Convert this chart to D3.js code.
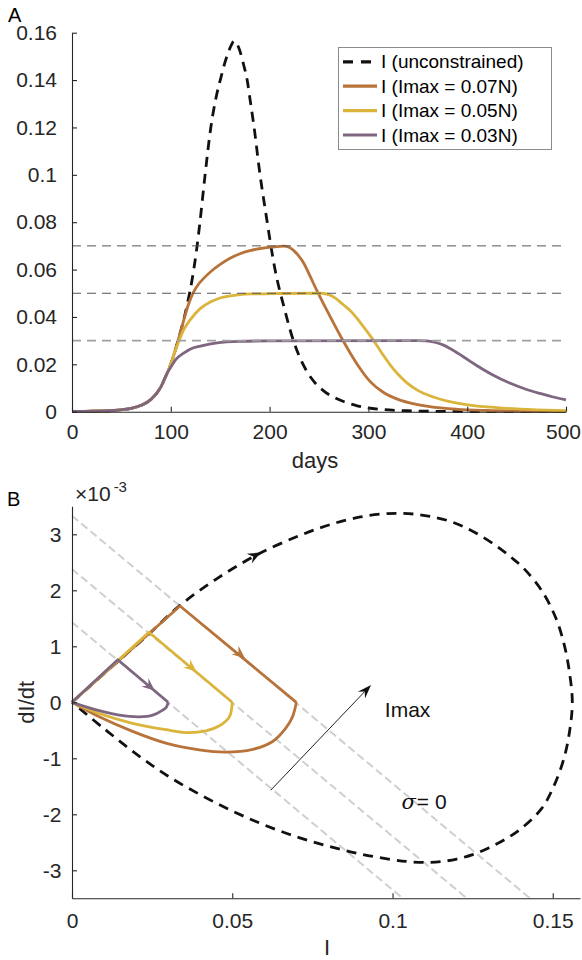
<!DOCTYPE html>
<html>
<head>
<meta charset="utf-8">
<script src="https://cdn.jsdelivr.net/npm/d3@7"></script>
<style>
  html, body { margin: 0; padding: 0; background: #fff; }
  svg { display: block; font-family: "Liberation Sans", Arial, Helvetica, sans-serif; }
</style>
</head>
<body>
<svg id="chart" width="582" height="960"></svg>
<script>
// ---------- Panel A: infected fraction I over time ----------
const dayTicks = [0, 100, 200, 300, 400, 500];
const dayTickLabels = ["0", "100", "200", "300", "400", "500"];
const fracTicks = [0, 0.02, 0.04, 0.06, 0.08, 0.1, 0.12, 0.14, 0.16];
const fracTickLabels = ["0", "0.02", "0.04", "0.06", "0.08", "0.1", "0.12", "0.14", "0.16"];
const capLevels = [0.07, 0.05, 0.03];
const seriesNames = ["I (unconstrained)", "I (Imax = 0.07N)", "I (Imax = 0.05N)", "I (Imax = 0.03N)"];

// early growth phase, common to every run
const earlyI = [[0, 0.0001], [20, 0.0002], [40, 0.0005], [60, 0.0014], [70, 0.0027],
                [80, 0.0052], [90, 0.0105], [96, 0.016]];

const unconstrainedI = earlyI.concat([
  [100, 0.020], [104, 0.0252], [108, 0.031], [113, 0.0387], [117, 0.046], [121.5, 0.0556],
  [126, 0.068], [129.5, 0.08], [134.7, 0.10], [140.5, 0.12], [146, 0.133], [151, 0.1415],
  [154.5, 0.147], [158, 0.1515], [161, 0.1545], [164, 0.1565], [167, 0.1553], [170, 0.1522],
  [173.5, 0.1468], [177.3, 0.14], [180.5, 0.131], [184, 0.121], [190, 0.101], [197.6, 0.08],
  [201.3, 0.07], [205.5, 0.06], [214.5, 0.0443], [224.5, 0.0295], [231, 0.0225], [238, 0.0168],
  [246, 0.0122], [255, 0.0087], [265, 0.0061], [275.5, 0.0042], [287, 0.0027], [298, 0.0017],
  [315, 0.0009], [340, 0.0004], [370, 0.00015], [420, 0.00005], [500, 0]
]);

const cap07I = earlyI.concat([
  [100, 0.020], [104, 0.0252], [108, 0.031], [113, 0.0385], [118, 0.0455], [123, 0.0505],
  [128, 0.0538], [134, 0.0566], [141.5, 0.0595], [150, 0.0622], [160, 0.0648], [170, 0.0667],
  [180, 0.068], [195, 0.0692], [208, 0.0697], [214.5, 0.0699], [219, 0.0695], [224.5, 0.068],
  [229, 0.066], [234.6, 0.0627], [241, 0.0572], [248, 0.051], [255, 0.0452], [261.7, 0.0398],
  [273, 0.031], [282, 0.0245], [290, 0.0192], [301.6, 0.0128], [315, 0.0082], [332, 0.0049],
  [345, 0.0034], [362, 0.0021], [390, 0.001], [420, 0.0005], [460, 0.0002], [500, 0.0001]
]);

const cap05I = earlyI.concat([
  [100, 0.020], [104, 0.0252], [108, 0.0295], [113, 0.0345], [120, 0.039], [130, 0.0436],
  [140, 0.0463], [147, 0.0476], [164, 0.0491], [181, 0.0497], [210, 0.0499], [252, 0.05],
  [258, 0.0496], [264, 0.0486], [270, 0.0468], [276, 0.0447], [282, 0.0425], [293, 0.037],
  [305, 0.0302], [314, 0.0245], [322, 0.0198], [330, 0.0158], [338.7, 0.0123], [350, 0.009],
  [365.7, 0.0062], [380, 0.0045], [396, 0.0032], [420, 0.002], [440, 0.0014], [470, 0.0008],
  [500, 0.0004]
]);

const cap03I = earlyI.concat([
  [100, 0.0188], [105, 0.022], [113, 0.0247], [120, 0.0265], [130, 0.0277], [147, 0.0291],
  [170, 0.0297], [200, 0.0299], [350, 0.03], [358, 0.0299], [364, 0.0296], [370, 0.029],
  [376, 0.0281], [382.6, 0.0267], [396, 0.0232], [409.6, 0.0195], [425, 0.0157],
  [443, 0.0121], [458, 0.0097], [473.7, 0.0077], [487, 0.0062], [500, 0.005]
]);

// ---------- Panel B: phase plane dI/dt (x10^-3) against I ----------
const phaseITicks = [0, 0.05, 0.1, 0.15];
const phaseITickLabels = ["0", "0.05", "0.1", "0.15"];
const phaseDTicks = [-3, -2, -1, 0, 1, 2, 3];
const phaseDTickLabels = ["-3", "-2", "-1", "0", "1", "2", "3"];

const unconstrainedPhase = [
  [0, 0], [0.0145, 0.74], [0.0242, 1.23], [0.0337, 1.73], [0.045, 2.20], [0.0576, 2.63],
  [0.0711, 2.98], [0.0815, 3.19], [0.09, 3.31], [0.097, 3.365], [0.102, 3.375], [0.107, 3.36],
  [0.1117, 3.32], [0.117, 3.25], [0.122, 3.14], [0.127, 2.99], [0.1325, 2.79], [0.137, 2.59],
  [0.1408, 2.40], [0.1465, 2.0], [0.151, 1.5], [0.1537, 1.0], [0.1553, 0.5], [0.1561, 0],
  [0.1553, -0.5], [0.1535, -1.0], [0.1503, -1.5], [0.1465, -1.9], [0.14, -2.26], [0.135, -2.45],
  [0.13, -2.60], [0.125, -2.72], [0.12, -2.80], [0.115, -2.845], [0.11, -2.86], [0.105, -2.845],
  [0.10, -2.81], [0.09, -2.71], [0.08, -2.57], [0.07, -2.40], [0.06, -2.19], [0.05, -1.94],
  [0.04, -1.65], [0.03, -1.32], [0.02, -0.92], [0.01, -0.47], [0, 0]
];

// growth leg, then the slide along sigma = 0 down to (Imax, 0)
const cap07Rise = [[0, 0], [0.0337, 1.72], [0.07, 0]];
const cap05Rise = [[0, 0], [0.0240, 1.25], [0.05, 0]];
const cap03Rise = [[0, 0], [0.0143, 0.76], [0.03, 0]];

// decline back to the origin
const cap07Return = [[0.07, 0], [0.0688, -0.26], [0.0667, -0.46], [0.0626, -0.70], [0.0564, -0.84],
  [0.048, -0.89], [0.0397, -0.85], [0.0293, -0.73], [0.0189, -0.52], [0.0085, -0.26], [0, 0]];
const cap05Return = [[0.05, 0], [0.0491, -0.26], [0.046, -0.42], [0.0418, -0.51], [0.0356, -0.54],
  [0.0293, -0.49], [0.0189, -0.375], [0.0085, -0.2], [0, 0]];
const cap03Return = [[0.03, 0], [0.0294, -0.09], [0.0283, -0.14], [0.0252, -0.23], [0.021, -0.26],
  [0.0148, -0.23], [0.0085, -0.15], [0, 0]];

// sigma = 0 lines for each Imax, from the dI/dt axis to the bottom of the plot
const sigmaLines = [
  { start: [0, 3.33], end: [0.1429, -3.5] },
  { start: [0, 2.38], end: [0.1232, -3.5] },
  { start: [0, 1.43], end: [0.1032, -3.5] }
];

// direction-of-travel arrowheads: centre point and the segment they follow
const flowArrows = [
  { series: 0, at: [0.0571, 2.62], along: [[0.045, 2.20], [0.0711, 2.98]] },
  { series: 1, at: [0.0524, 0.86], along: [[0.0337, 1.72], [0.07, 0]] },
  { series: 2, at: [0.0373, 0.62], along: [[0.0240, 1.25], [0.05, 0]] },
  { series: 3, at: [0.0243, 0.28], along: [[0.0143, 0.76], [0.03, 0]] }
];

const imaxArrow = { from: [0.062, -1.57], to: [0.0933, 0.31] };
const imaxLabelAt = [0.0976, -0.26];
const sigmaLabelAt = [0.1028, -1.905];

// ---------- styles ----------
const ink = "#262626";
const seriesColors = ["#111111", "#b8733a", "#dbb53b", "#7e6680"];
const capLineStyles = [
  { color: "#555555", width: 1 },
  { color: "#555555", width: 1 },
  { color: "#a0a0a0", width: 1.6 }
];
const tickFont = 21, labelFont = 22, legendFont = 19;

const svg = d3.select("#chart");

function styleAxis(g) {
  g.select(".domain").attr("stroke", ink).attr("stroke-width", 1.1);
  g.selectAll(".tick line").attr("stroke", ink).attr("stroke-width", 1.1);
  g.selectAll(".tick text").attr("fill", ink).attr("font-size", tickFont)
    .attr("font-family", '"Liberation Sans", Arial, Helvetica, sans-serif');
}

function arrowHead(g, tip, angle, len, wid, color) {
  const pts = [[0, 0], [-len, -wid / 2], [-len * 0.65, 0], [-len, wid / 2]];
  g.append("path")
    .attr("d", "M" + pts.map(p => p.join(",")).join("L") + "Z")
    .attr("transform", `translate(${tip[0]},${tip[1]}) rotate(${angle * 180 / Math.PI})`)
    .attr("fill", color);
}

// ================= Panel A =================
const xA = d3.scaleLinear().domain([0, 500]).range([72, 566]);
const yA = d3.scaleLinear().domain([0, 0.16]).range([411.7, 32.7]);
const gA = svg.append("g");

const lineA = d3.line().x(d => xA(d[0])).y(d => yA(d[1])).curve(d3.curveMonotoneX);
const seriesA = [unconstrainedI, cap07I, cap05I, cap03I];

gA.selectAll("path.ts").data(seriesA).join("path")
  .attr("class", "ts")
  .attr("d", lineA)
  .attr("fill", "none")
  .attr("stroke", (d, i) => seriesColors[i])
  .attr("stroke-width", 2.8)
  .attr("stroke-dasharray", (d, i) => i === 0 ? "10,7" : null)
  .attr("stroke-linecap", "butt");

gA.selectAll("line.cap").data(capLevels).join("line")
  .attr("class", "cap")
  .attr("x1", xA(0)).attr("x2", xA(500))
  .attr("y1", d => yA(d)).attr("y2", d => yA(d))
  .attr("stroke", (d, i) => capLineStyles[i].color)
  .attr("stroke-width", (d, i) => capLineStyles[i].width)
  .attr("stroke-dasharray", "9,6");

const axA = gA.append("g").attr("transform", `translate(0,${yA(0)})`)
  .call(d3.axisBottom(xA).tickValues(dayTicks).tickFormat((d, i) => dayTickLabels[i])
    .tickSizeInner(-5).tickSizeOuter(0).tickPadding(12.7))
  .call(styleAxis);
// keep the last label inside the page edge
axA.selectAll(".tick text").filter((d, i) => i === dayTicks.length - 1).attr("dx", -3);

gA.append("g").attr("transform", `translate(${xA(0)},0)`)
  .call(d3.axisLeft(yA).tickValues(fracTicks).tickFormat((d, i) => fracTickLabels[i])
    .tickSizeInner(-5).tickSizeOuter(0).tickPadding(15))
  .call(styleAxis);

gA.append("text").attr("x", 315).attr("y", 468).attr("text-anchor", "middle")
  .attr("font-size", labelFont).attr("fill", ink).text("days");
gA.append("text").attr("x", 8).attr("y", 21.5)
  .attr("font-size", 20).attr("fill", "#000").text("A");

// legend
const leg = gA.append("g");
leg.append("rect").attr("x", 338.5).attr("y", 47.5).attr("width", 213).attr("height", 102)
  .attr("fill", "#fff").attr("stroke", "#8a8a8a").attr("stroke-width", 1);
seriesNames.forEach((name, i) => {
  const cy = 61.8 + i * 24.4;
  leg.append("line").attr("x1", 343).attr("x2", i === 0 ? 371 : 377)
    .attr("y1", cy).attr("y2", cy)
    .attr("stroke", seriesColors[i]).attr("stroke-width", 3.2)
    .attr("stroke-dasharray", i === 0 ? "10,8" : null);
  leg.append("text").attr("x", 381).attr("y", cy).attr("dy", "0.35em")
    .attr("font-size", legendFont).attr("fill", "#000").text(name);
});

// ================= Panel B =================
const xB = d3.scaleLinear().domain([0, 0.1585]).range([72, 580]);
const yB = d3.scaleLinear().domain([-3.5, 3.5]).range([898.3, 506.3]);
const gB = svg.append("g");

gB.selectAll("line.sigma").data(sigmaLines).join("line")
  .attr("class", "sigma")
  .attr("x1", d => xB(d.start[0])).attr("y1", d => yB(d.start[1]))
  .attr("x2", d => xB(d.end[0])).attr("y2", d => yB(d.end[1]))
  .attr("stroke", "#cfcfcf").attr("stroke-width", 2).attr("stroke-dasharray", "8,4");

const smoothB = d3.line().x(d => xB(d[0])).y(d => yB(d[1])).curve(d3.curveCatmullRom.alpha(0.5));
const straightB = d3.line().x(d => xB(d[0])).y(d => yB(d[1]));

gB.append("path").attr("d", smoothB(unconstrainedPhase))
  .attr("fill", "none").attr("stroke", seriesColors[0]).attr("stroke-width", 2.8)
  .attr("stroke-dasharray", "10,7");

const capPhase = [
  { rise: cap07Rise, ret: cap07Return },
  { rise: cap05Rise, ret: cap05Return },
  { rise: cap03Rise, ret: cap03Return }
];
capPhase.forEach((s, i) => {
  const col = seriesColors[i + 1];
  gB.append("path").attr("d", straightB(s.rise))
    .attr("fill", "none").attr("stroke", col).attr("stroke-width", 2.8)
    .attr("stroke-linejoin", "round");
  gB.append("path").attr("d", smoothB(s.ret))
    .attr("fill", "none").attr("stroke", col).attr("stroke-width", 2.8)
    .attr("stroke-linejoin", "round");
});

flowArrows.forEach(a => {
  const p0 = [xB(a.along[0][0]), yB(a.along[0][1])];
  const p1 = [xB(a.along[1][0]), yB(a.along[1][1])];
  const ang = Math.atan2(p1[1] - p0[1], p1[0] - p0[0]);
  const L = 13, W = 11;
  const c = [xB(a.at[0]), yB(a.at[1])];
  const tip = [c[0] + Math.cos(ang) * L / 2, c[1] + Math.sin(ang) * L / 2];
  arrowHead(gB, tip, ang, L, W, seriesColors[a.series]);
});

// Imax direction arrow
{
  const p0 = [xB(imaxArrow.from[0]), yB(imaxArrow.from[1])];
  const p1 = [xB(imaxArrow.to[0]), yB(imaxArrow.to[1])];
  const ang = Math.atan2(p1[1] - p0[1], p1[0] - p0[0]);
  const L = 14, W = 10;
  gB.append("line").attr("x1", p0[0]).attr("y1", p0[1])
    .attr("x2", p1[0] - Math.cos(ang) * L * 0.65).attr("y2", p1[1] - Math.sin(ang) * L * 0.65)
    .attr("stroke", "#222").attr("stroke-width", 1);
  arrowHead(gB, p1, ang, L, W, "#111");
}

gB.append("text").attr("x", xB(imaxLabelAt[0])).attr("y", yB(imaxLabelAt[1]))
  .attr("font-size", 21).attr("fill", "#111").text("Imax");
const sig = gB.append("text").attr("x", xB(sigmaLabelAt[0])).attr("y", yB(sigmaLabelAt[1]))
  .attr("font-size", 21).attr("fill", "#111");
sig.append("tspan").attr("font-style", "italic").attr("font-family", '"DejaVu Serif", serif').text("σ");
sig.append("tspan").attr("dx", 1).text("= 0");

gB.append("g").attr("transform", `translate(0,${yB(-3.5)})`)
  .call(d3.axisBottom(xB).tickValues(phaseITicks).tickFormat((d, i) => phaseITickLabels[i])
    .tickSizeInner(-5).tickSizeOuter(0).tickPadding(14.8))
  .call(styleAxis);

gB.append("g").attr("transform", `translate(${xB(0)},0)`)
  .call(d3.axisLeft(yB).tickValues(phaseDTicks).tickFormat((d, i) => phaseDTickLabels[i])
    .tickSizeInner(-5).tickSizeOuter(0).tickPadding(10.5))
  .call(styleAxis);

// exponent marker for the dI/dt axis
const expo = gB.append("text").attr("x", 75).attr("y", 500.5)
  .attr("font-size", 21).attr("fill", ink);
expo.append("tspan").text("×10");
expo.append("tspan").attr("font-size", 15).attr("dx", 3).attr("dy", -9).text("-3");

gB.append("text").attr("transform", `translate(34,${yB(0)}) rotate(-90)`)
  .attr("text-anchor", "middle").attr("font-size", labelFont).attr("fill", ink).text("dI/dt");
gB.append("text").attr("x", 327).attr("y", 955).attr("text-anchor", "middle")
  .attr("font-size", labelFont).attr("fill", ink).text("I");
gB.append("text").attr("x", 7).attr("y", 506)
  .attr("font-size", 20).attr("fill", "#000").text("B");
</script>
</body>
</html>
